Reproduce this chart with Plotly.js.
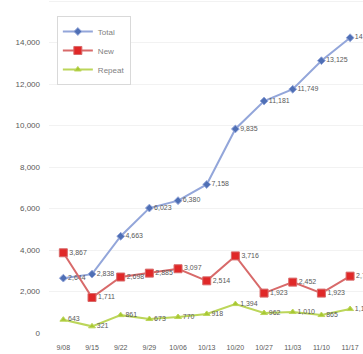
<!DOCTYPE html>
<html>
<head>
<meta charset="utf-8">
<script src="https://cdn.plot.ly/plotly-3.0.1.min.js"></script>
<style>html,body{margin:0;padding:0;background:#fff;}#chart{width:363px;height:354px;}</style>
</head>
<body>
<div id="chart"></div>
<script>
var categories = ["9/08","9/15","9/22","9/29","10/06","10/13","10/20","10/27","11/03","11/10","11/17"];
var seriesNames = ["Total","New","Repeat"];
var totalValues = [2644, 2838, 4663, 6023, 6380, 7158, 9835, 11181, 11749, 13125, 14231];
var newValues = [3867, 1711, 2698, 2885, 3097, 2514, 3716, 1923, 2452, 1923, 2740];
var repeatValues = [643, 321, 861, 673, 770, 918, 1394, 962, 1010, 865, 1154];

var labelFont = {family: "Liberation Sans, Arial, sans-serif", size: 7, color: "#595959"};

function series(name, y, lineColor, markerColor, symbol, size) {
  return {
    type: "scatter",
    mode: "lines+markers+text",
    name: name,
    x: categories,
    y: y,
    line: {color: lineColor, width: 2},
    marker: {color: markerColor, symbol: symbol, size: size, line: {color: lineColor, width: 1}},
    texttemplate: "%{y:,}",
    textposition: "middle right",
    textfont: labelFont,
    cliponaxis: false
  };
}

var data = [
  series(seriesNames[0], totalValues, "#93a6da", "#4f6fb5", "diamond", 6),
  series(seriesNames[1], newValues, "#d86a6a", "#e02828", "square", 8),
  series(seriesNames[2], repeatValues, "#bcd65a", "#a8c832", "triangle-up", 6)
];

var layout = {
  width: 363,
  height: 354,
  margin: {l: 49, r: 0, t: 0, b: 21},
  paper_bgcolor: "#ffffff",
  plot_bgcolor: "#ffffff",
  showlegend: true,
  legend: {
    x: 0.025, y: 0.952, xanchor: "left", yanchor: "top",
    bgcolor: "#ffffff", bordercolor: "#d9d9d9", borderwidth: 1,
    font: {family: "Liberation Sans, Arial, sans-serif", size: 8, color: "#7f7f7f"},
    itemwidth: 30, tracegroupgap: 3
  },
  xaxis: {
    type: "category",
    range: [-0.5, 10.45],
    showgrid: false,
    zeroline: false,
    showline: false,
    ticks: "",
    tickfont: {family: "Liberation Sans, Arial, sans-serif", size: 7, color: "#595959"},
    ticklabelstandoff: 9
  },
  yaxis: {
    range: [0, 16050],
    tickvals: [0, 2000, 4000, 6000, 8000, 10000, 12000, 14000, 16000],
    tickformat: ",",
    showgrid: true,
    gridcolor: "#f2f2f2",
    zeroline: false,
    showline: false,
    ticks: "",
    tickfont: {family: "Liberation Sans, Arial, sans-serif", size: 8, color: "#595959"},
    ticklabelstandoff: 8
  }
};

Plotly.newPlot("chart", data, layout, {displayModeBar: false, staticPlot: true});
</script>
</body>
</html>
